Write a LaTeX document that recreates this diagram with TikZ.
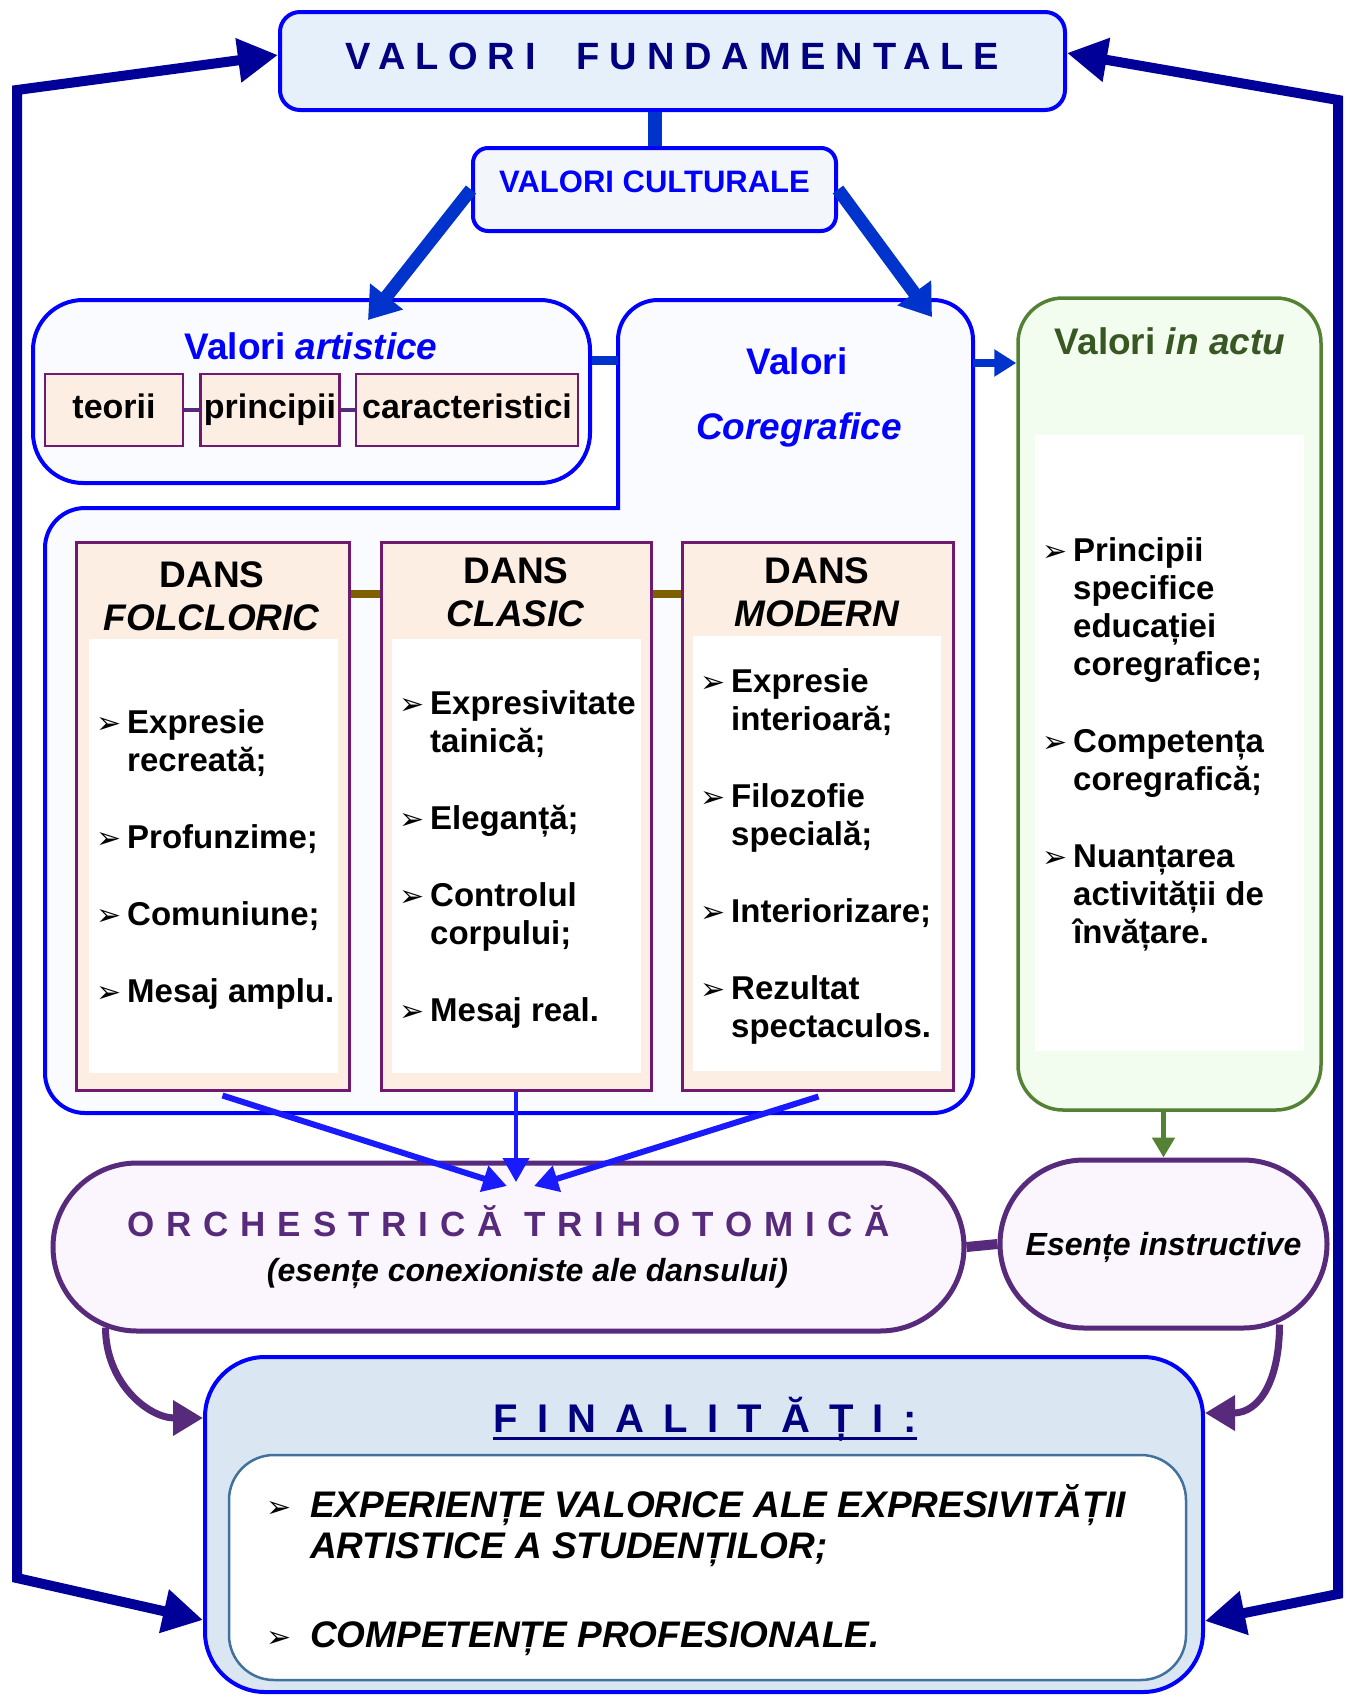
\documentclass[tikz,border=0pt]{standalone}
\usepackage{fontspec}
\setmainfont{Liberation Sans}
\newfontfamily\dejavu{DejaVu Sans}
\usetikzlibrary{positioning,calc,arrows.meta}

\definecolor{vfblue}{HTML}{0000FF}
\definecolor{navyc}{HTML}{000099}
\definecolor{titlenavy}{HTML}{000080}
\definecolor{arrblue}{HTML}{0033CC}
\definecolor{lineblue}{HTML}{1A1AFF}
\definecolor{fundfill}{HTML}{E6F0FA}
\definecolor{cultfill}{HTML}{F3F7FC}
\definecolor{palefill}{HTML}{F9FBFE}
\definecolor{peach}{HTML}{FDEEE4}
\definecolor{plum}{HTML}{6F1A6F}
\definecolor{olivebr}{HTML}{7F6000}
\definecolor{leaf}{HTML}{548235}
\definecolor{leafdark}{HTML}{385723}
\definecolor{mint}{HTML}{F2FCEF}
\definecolor{grape}{HTML}{582A7C}
\definecolor{lavender}{HTML}{FBF6FD}
\definecolor{sky}{HTML}{DAE7F3}
\definecolor{steel}{HTML}{41719C}

\newcommand\fs[2]{\fontsize{#1}{#2}\selectfont\bfseries}
\newcommand\bul[1][34]{\makebox[#1pt][l]{\hspace{3pt}\smash{\dejavu\fontsize{30}{30}\selectfont ➢}}}

\tikzset{
  box/.style={draw=vfblue, line width=4, inner sep=0},
  chip/.style={draw=plum, line width=2.5, fill=peach, minimum height=72, text height=24, text depth=7, inner sep=0, font=\fs{34}{40}},
  dansbox/.style={draw=plum, line width=3, fill=peach, minimum height=548, inner sep=0},
  danstitle/.style={align=center, inner sep=0, font=\fs{37}{43}},
  items/.style={anchor=base west, inner sep=0, font=\fs{33}{38}},
  pill/.style={draw=grape, line width=5, fill=lavender, rounded corners=84, minimum height=168, inner sep=0},
  bigarr/.style={draw=arrblue, line width=13, -{Triangle[length=30pt,width=40pt]}},
  thinarr/.style={draw=lineblue, line width=6, -{Triangle[length=24pt,width=26pt]}},
  navyarr/.style={draw=navyc, line width=10, line join=miter, {Triangle[length=40pt,width=42pt]}-{Triangle[length=40pt,width=42pt]}},
  curvarr/.style={draw=grape, line width=7, -{Triangle[length=30pt,width=34pt]}}
}

\begin{document}
\begin{tikzpicture}[x=1pt,y=-1pt]
\useasboundingbox (0,0) rectangle (1349,1695);

% top boxes
\node[box, fill=fundfill, rounded corners=20, minimum width=785, minimum height=98, text=titlenavy, text depth=10, font=\fs{38}{44}\addfontfeature{LetterSpace=26}] (fund) at (672.5,61) {VALORI\ \ FUNDAMENTALE};
\node[box, fill=cultfill, rounded corners=15, minimum width=363, minimum height=83, text=vfblue, text depth=15, font=\fs{31}{36}] (cult) at (654.5,189.5) {VALORI CULTURALE};

% valori artistice
\node[box, fill=palefill, rounded corners=50, minimum width=557, minimum height=183] (art) at (311.5,391.5) {};
\node[text=vfblue, font=\fs{37}{42}] (art-t) at (311,346) {Valori \textit{artistice}};
\node[chip, minimum width=138] (teorii) at (114,410) {teorii};
\node[chip, minimum width=139, right=15 of teorii] (princ) {principii};
\node[chip, minimum width=222, right=14 of princ] (carac) {caracteristici};

% valori coregrafice
\filldraw[draw=vfblue, line width=4, fill=palefill] (618,508) -- (618,340) arc[start angle=180, end angle=270, radius=40] -- (933,300) arc[start angle=270, end angle=360, radius=40] -- (973,1073) arc[start angle=0, end angle=90, radius=40] -- (85,1113) arc[start angle=90, end angle=180, radius=40] -- (45,548) arc[start angle=180, end angle=270, radius=40] -- cycle;
\node[text=vfblue, font=\fs{37}{42}] (coreg-a) at (797,361) {Valori};
\node[text=vfblue, font=\fs{37}{42}\itshape] (coreg-b) at (799,430) {Coregrafice};
\coordinate (coreg-w) at (618,360);
\coordinate (coreg-e) at (973,363);

% valori in actu
\node[draw=leaf, line width=3.5, fill=mint, rounded corners=45, minimum width=303, minimum height=812] (actu) at (1169.5,704) {};
\fill[white] (1035,435) rectangle (1304,1051);
\node[text=leafdark, font=\fs{37}{42}] (actu-t) at (1170,341) {Valori \textit{in actu}};
\node[items] (actu-l) at (1039,561) {\begin{tabular}[t]{@{}l@{}l@{}}
\bul & Principii\\ & specifice\\ & educației\\ & coregrafice;\\[39pt]
\bul & Competența\\ & coregrafică;\\[39pt]
\bul & Nuanțarea\\ & activității de\\ & învățare.
\end{tabular}};

% dans
\node[dansbox, minimum width=273] (folk) at (212.5,816) {};
\node[dansbox, minimum width=270] (clas) at (516,816) {};
\node[dansbox, minimum width=271] (mod) at (817.5,816) {};
\fill[white] (89,639) rectangle (338,1073);
\fill[white] (392,639) rectangle (641,1073);
\fill[white] (693,636) rectangle (941,1071);
\node[danstitle] (folk-t) at (212,596) {DANS\\\textit{FOLCLORIC}};
\node[danstitle] (clas-t) at (516,592) {DANS\\\textit{CLASIC}};
\node[danstitle] (mod-t) at (817,592) {DANS\\\textit{MODERN}};
\node[items] (folk-l) at (93,733) {\begin{tabular}[t]{@{}l@{}l@{}}
\bul & Expresie\\ & recreată;\\[39pt]
\bul & Profunzime;\\[39pt]
\bul & Comuniune;\\[39pt]
\bul & Mesaj amplu.
\end{tabular}};
\node[items] (clas-l) at (396,714) {\begin{tabular}[t]{@{}l@{}l@{}}
\bul & Expresivitate\\ & tainică;\\[39pt]
\bul & Eleganță;\\[39pt]
\bul & Controlul\\ & corpului;\\[39pt]
\bul & Mesaj real.
\end{tabular}};
\node[items] (mod-l) at (697,692) {\begin{tabular}[t]{@{}l@{}l@{}}
\bul & Expresie\\ & interioară;\\[39pt]
\bul & Filozofie\\ & specială;\\[39pt]
\bul & Interiorizare;\\[39pt]
\bul & Rezultat\\ & spectaculos.
\end{tabular}};

% orchestrica
\node[pill, minimum width=911, align=center, font=\fs{32}{45}\itshape] (orch) at (508.5,1247) {{\fs{35}{45}\upshape\addfontfeature{LetterSpace=34}\color{grape}ORCHESTRICĂ TRIHOTOMICĂ}\\\hspace*{38pt}(esențe conexioniste ale dansului)};
\node[pill, minimum width=327, text depth=0, font=\fs{32}{38}\itshape] (esen) at (1163.5,1244) {Esențe instructive};
\coordinate (orch-l) at (507,1186);
\coordinate (orch-m) at (516,1182);
\coordinate (orch-r) at (534,1186);

% finalitati
\node[box, fill=sky, rounded corners=60, minimum width=998, minimum height=335] (fin) at (704,1524.5) {};
\node[draw=steel, line width=2.5, fill=white, rounded corners=45, minimum width=957, minimum height=225] (fin-in) at (707.5,1567.5) {};
\node[inner sep=0, anchor=base, text=titlenavy, font=\fs{40}{44}\addfontfeature{LetterSpace=48}] (fin-t) at (705,1432) {FINALITĂȚI:};
\draw[titlenavy, line width=3] ([yshift=-6]fin-t.base west) -- ([yshift=-6]fin-t.base east);
\node[items, font=\fs{37}{41}\itshape] (fin-l) at (263,1517) {\begin{tabular}[t]{@{}l@{}l@{}}
\bul[47] & \smash{EXPERIENȚE VALORICE ALE EXPRESIVITĂȚII}\\ & \smash{ARTISTICE A STUDENȚILOR;}\\[48pt]
\bul[47] & \smash{COMPETENȚE PROFESIONALE.}
\end{tabular}};

% connectors
\draw[draw=arrblue, line width=14] (cult.north) -- (cult.north |- fund.south);
\coordinate (art-hit) at (368,320);
\coordinate (coreg-hit) at (932,317);
\draw[bigarr] (cult.west) -- (art-hit);
\draw[bigarr] (cult.east) -- (coreg-hit);
\draw[draw=arrblue, line width=9] (coreg-w -| art.east) -- (coreg-w);
\draw[draw=arrblue, line width=8, -{Triangle[length=22pt,width=26pt]}] (coreg-e) -- (coreg-e -| actu.west);
\draw[grape, line width=4] (teorii) -- (princ);
\draw[grape, line width=4] (princ) -- (carac);
\draw[olivebr, line width=8] ([yshift=222]folk.east) -- ([yshift=222]clas.west);
\draw[olivebr, line width=8] ([yshift=222]clas.east) -- ([yshift=222]mod.west);
\draw[thinarr] ([xshift=10,yshift=-4]folk.south) -- (orch-l);
\draw[thinarr, line width=4] (clas.south) -- (orch-m);
\draw[thinarr] ([xshift=1,yshift=-5]mod.south) -- (orch-r);
\draw[leaf, line width=5, -{Triangle[length=20pt,width=22pt]}] (actu.south -| esen.north) -- (esen.north);
\draw[grape, line width=10] (orch.east) -- (esen.west);
\draw[curvarr] ([xshift=55,yshift=6]orch.south west) .. controls +(0,55) and +(-55,0) .. ([yshift=-63]fin.north west);
\draw[curvarr] ([xshift=-50,yshift=6]esen.south east) .. controls +(0,55) and +(55,0) .. ([yshift=-58]fin.north east);

% outer loops
\coordinate (lb) at (17,1578);
\coordinate (lt) at (17,90);
\coordinate (rb) at (1338,1594);
\coordinate (rt) at (1338,100);
\draw[navyarr] ([yshift=-95.5]fin.west) -- (lb) -- (lt) -- ([yshift=6]fund.west);
\draw[navyarr] ([yshift=-96.5]fin.east) -- (rb) -- (rt) -- ([yshift=8]fund.east);
\end{tikzpicture}
\end{document}
